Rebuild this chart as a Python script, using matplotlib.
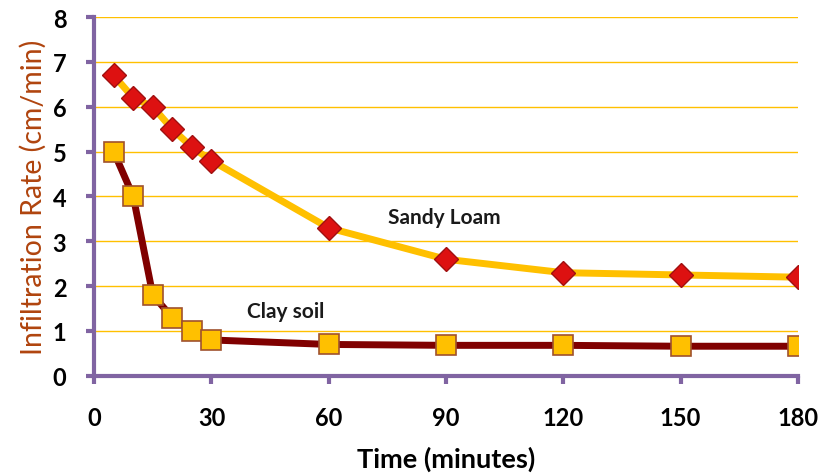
import matplotlib.pyplot as plt

# data
time_min = [5, 10, 15, 20, 25, 30, 60, 90, 120, 150, 180]
sandy_loam = [6.7, 6.2, 6.0, 5.5, 5.1, 4.8, 3.3, 2.6, 2.3, 2.25, 2.2]
clay_soil = [5.0, 4.0, 1.8, 1.3, 1.0, 0.8, 0.7, 0.68, 0.68, 0.66, 0.66]
x_ticks = [0, 30, 60, 90, 120, 150, 180]
y_ticks = [0, 1, 2, 3, 4, 5, 6, 7, 8]

plt.rcParams['font.family'] = ['Lato', 'DejaVu Sans']

purple = '#8064a2'
gold = '#ffc000'

fig = plt.figure(figsize=(8.26, 4.77), dpi=100)
ax = fig.add_axes([0.114, 0.210, 0.852, 0.752])

# horizontal gridlines
for y in y_ticks[1:]:
    ax.axhline(y, color=gold, linewidth=1, zorder=1)

ax.plot(time_min, sandy_loam, color=gold, linewidth=5, zorder=2,
        marker='D', markersize=12.5, markerfacecolor='#dd1111',
        markeredgecolor='#a01010', markeredgewidth=1)
ax.plot(time_min, clay_soil, color='#800000', linewidth=5, zorder=3,
        marker='s', markersize=14, markerfacecolor=gold,
        markeredgecolor='#a0522d', markeredgewidth=1.2)

ax.text(89.5, 3.55, 'Sandy Loam', fontsize=15, fontweight='bold',
        ha='center', va='center', color='#1a1a1a')
ax.text(49, 1.45, 'Clay soil', fontsize=15, fontweight='bold',
        ha='center', va='center', color='#1a1a1a')

ax.set_xlim(0, 180)
ax.set_ylim(0, 8)
ax.set_xticks(x_ticks)
ax.set_yticks(y_ticks)
ax.tick_params(axis='both', direction='out', length=6, width=3, color=purple,
               labelsize=17)
ax.tick_params(axis='x', pad=16)
ax.tick_params(axis='y', pad=14)
for lab in ax.get_xticklabels() + ax.get_yticklabels():
    lab.set_fontweight('bold')

for side in ['top', 'right']:
    ax.spines[side].set_visible(False)
for side in ['left', 'bottom']:
    ax.spines[side].set_color(purple)
    ax.spines[side].set_linewidth(3)

ax.set_xlabel('Time (minutes)', fontsize=19.5, fontweight='bold', labelpad=12)
ax.set_ylabel('Infiltration Rate (cm/min)', fontsize=20.5, color='#b0440e',
              labelpad=4)

fig.savefig('out.png', dpi=100)
